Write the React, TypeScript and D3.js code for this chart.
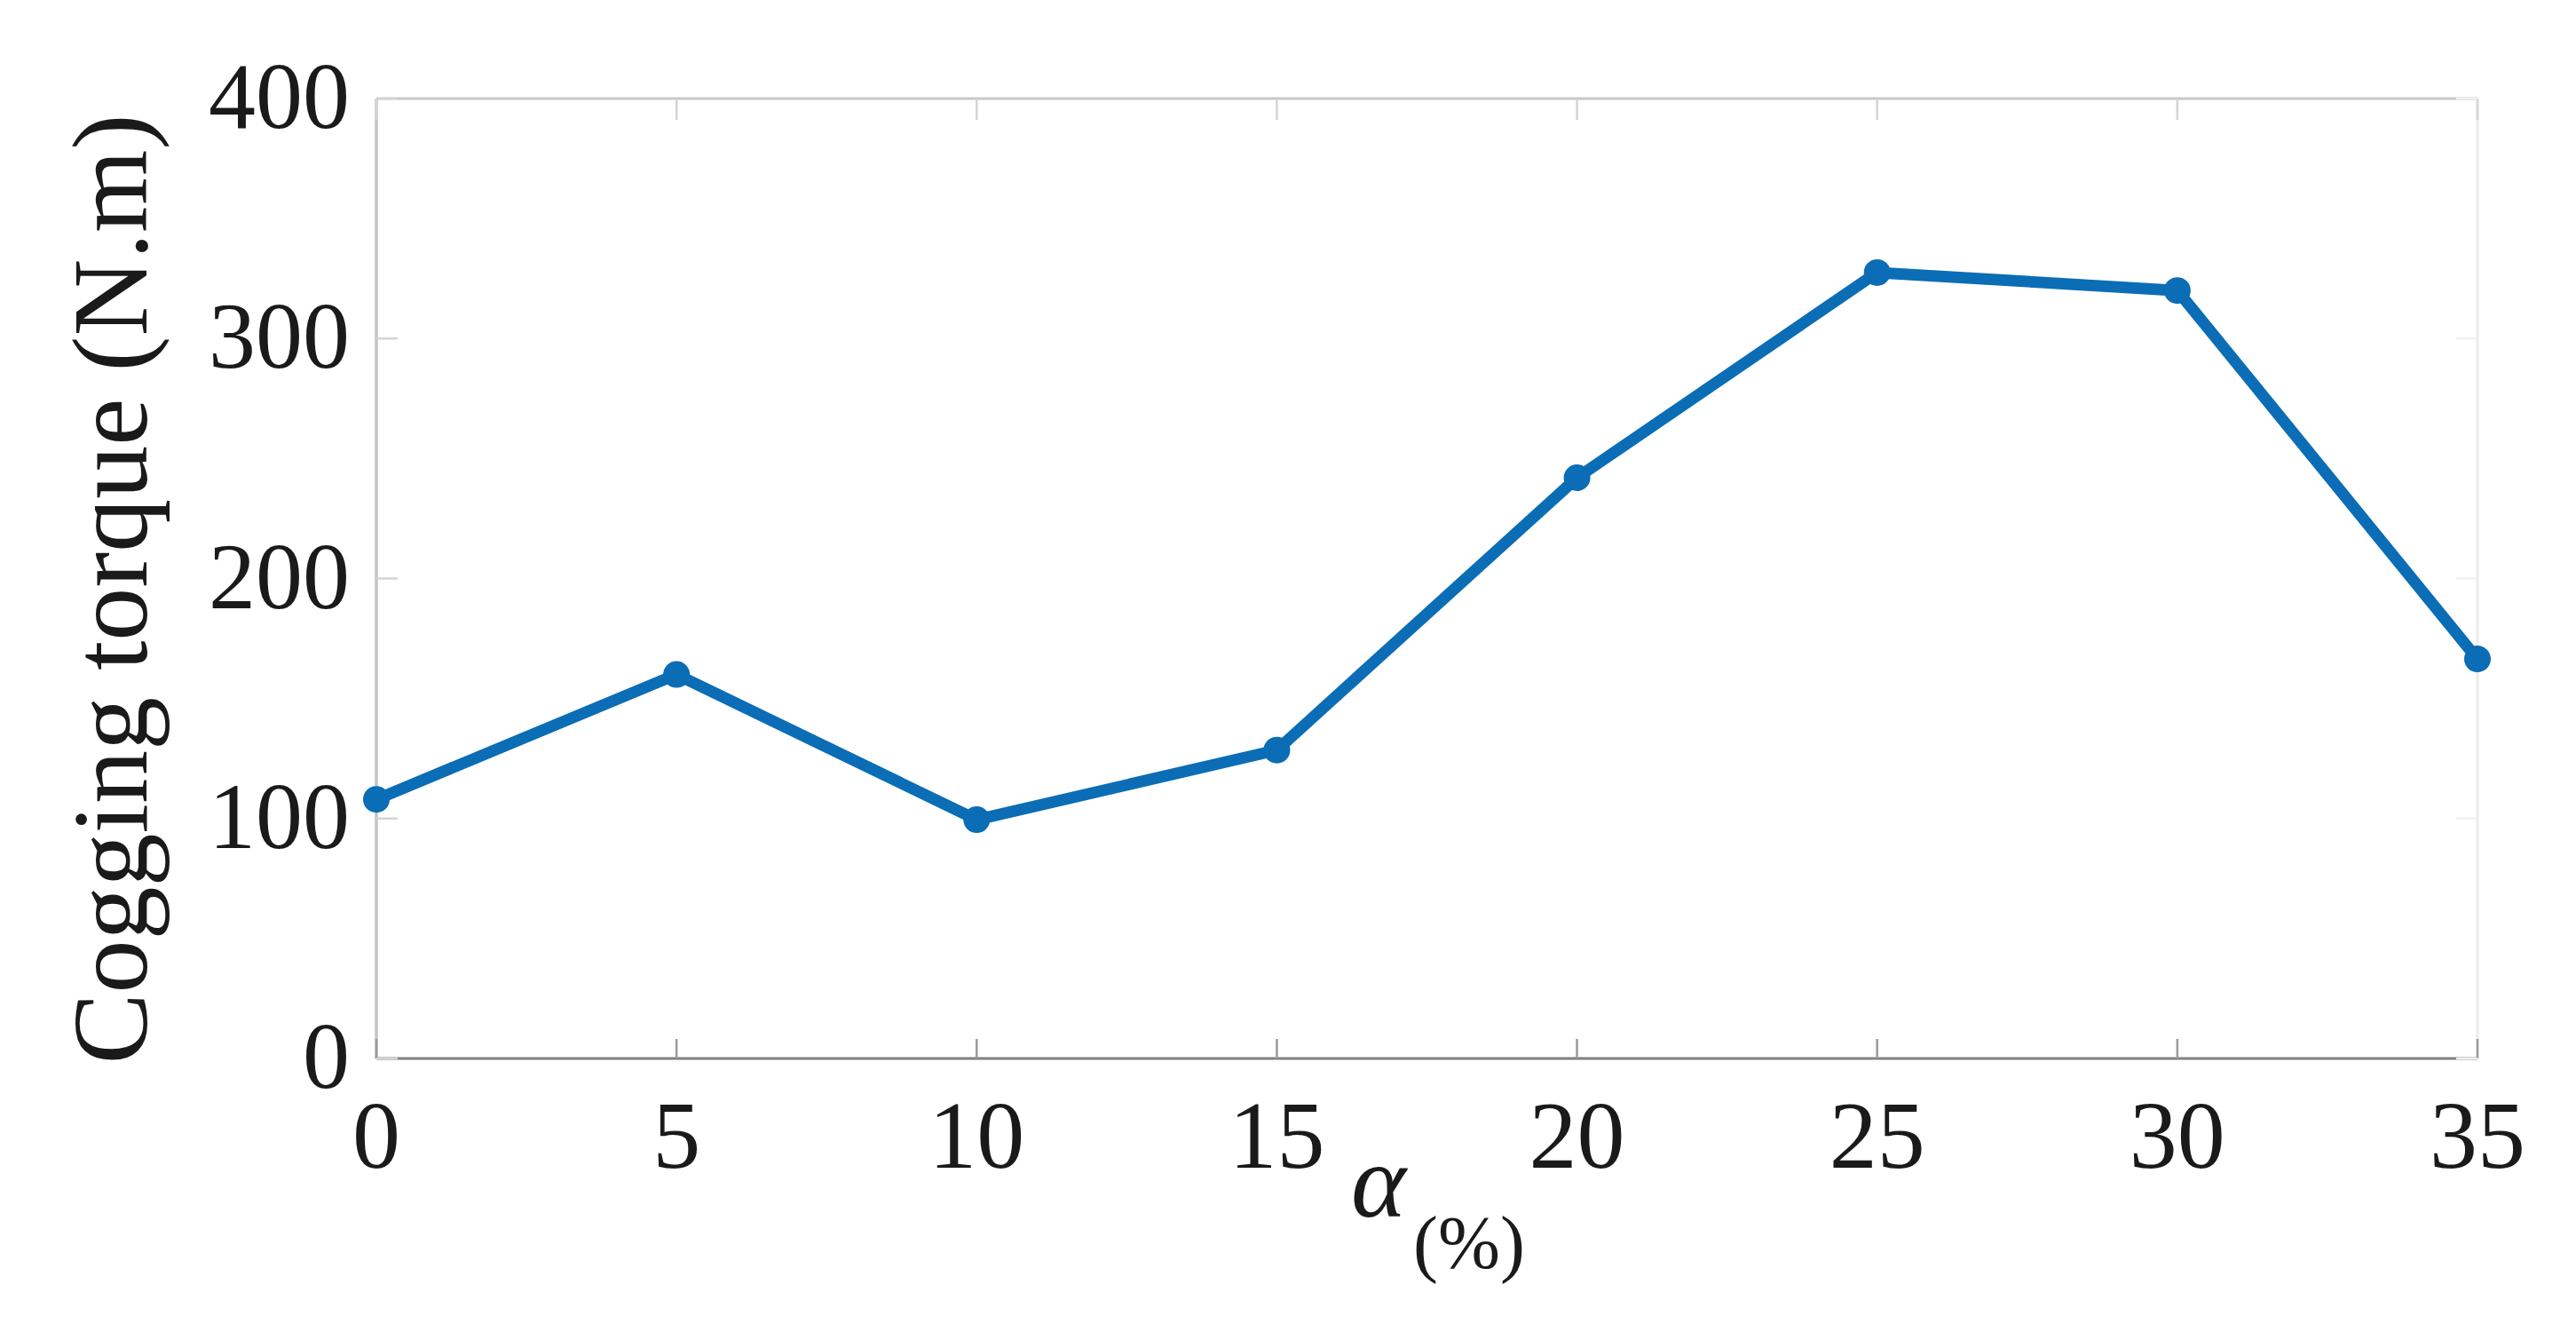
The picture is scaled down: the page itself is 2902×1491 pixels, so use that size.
import { useRef, useEffect } from 'react'
import * as d3 from 'd3'

// alpha (%) vs cogging torque (N.m)
const alphaValues = [0, 5, 10, 15, 20, 25, 30, 35]
const torqueValues = [108, 160, 99.5, 128.5, 242, 327.5, 320, 166.5]
const xTicks = [0, 5, 10, 15, 20, 25, 30, 35]
const yTicks = [0, 100, 200, 300, 400]

const W = 2902
const H = 1491
const FONT = "'Liberation Serif','Times New Roman',serif"
const BLUE = '#0b6db5'

export default function App() {
  const svgRef = useRef<SVGSVGElement>(null)

  useEffect(() => {
    document.body.style.margin = '0'
    const svg = svgRef.current
    if (!svg) return

    const margin = { top: 111, right: 111, bottom: 299, left: 424 }
    const iW = W - margin.left - margin.right
    const iH = H - margin.top - margin.bottom

    const sel = d3.select(svg)
    sel.selectAll('*').remove()
    sel.attr('width', W).attr('height', H)
    sel.append('rect').attr('width', W).attr('height', H).attr('fill', '#fff')

    const g = sel.append('g').attr('transform', `translate(${margin.left},${margin.top})`)

    const x = d3.scaleLinear().domain([0, 35]).range([0, iW])
    const y = d3.scaleLinear().domain([0, 400]).range([iH, 0])

    // box (matlab style)
    g.append('line').attr('x1', 0).attr('x2', iW).attr('y1', 0).attr('y2', 0)
      .attr('stroke', '#c8c8c8').attr('stroke-width', 3)
    g.append('line').attr('x1', iW).attr('x2', iW).attr('y1', 0).attr('y2', iH)
      .attr('stroke', '#ececec').attr('stroke-width', 3)
    g.append('line').attr('x1', 0).attr('x2', 0).attr('y1', 0).attr('y2', iH)
      .attr('stroke', '#c4c4c4').attr('stroke-width', 3.5)
    g.append('line').attr('x1', 0).attr('x2', iW).attr('y1', iH).attr('y2', iH)
      .attr('stroke', '#7f7f7f').attr('stroke-width', 3)

    // x ticks
    xTicks.forEach((t) => {
      g.append('line').attr('x1', x(t)).attr('x2', x(t)).attr('y1', iH).attr('y2', iH - 22)
        .attr('stroke', '#9a9a9a').attr('stroke-width', 2.5)
      g.append('line').attr('x1', x(t)).attr('x2', x(t)).attr('y1', 0).attr('y2', 24)
        .attr('stroke', '#d4d4d4').attr('stroke-width', 2.5)
      g.append('text')
        .attr('x', x(t))
        .attr('y', iH + 123)
        .attr('text-anchor', 'middle')
        .attr('fill', '#1a1a1a')
        .attr('font-size', '108px')
        .attr('font-family', FONT)
        .text(t)
    })

    // y ticks
    yTicks.forEach((t) => {
      g.append('line').attr('x1', 0).attr('x2', 24).attr('y1', y(t)).attr('y2', y(t))
        .attr('stroke', '#d4d4d4').attr('stroke-width', 2.5)
      g.append('line').attr('x1', iW).attr('x2', iW - 24).attr('y1', y(t)).attr('y2', y(t))
        .attr('stroke', '#f0f0f0').attr('stroke-width', 2.5)
      g.append('text')
        .attr('x', -30)
        .attr('y', y(t) + 33)
        .attr('text-anchor', 'end')
        .attr('fill', '#1a1a1a')
        .attr('font-size', '106px')
        .attr('font-family', FONT)
        .text(t)
    })

    // series
    const pts = alphaValues.map((a, i) => [a, torqueValues[i]] as [number, number])
    const line = d3.line<[number, number]>().x((d) => x(d[0])).y((d) => y(d[1]))
    g.append('path')
      .attr('d', line(pts))
      .attr('fill', 'none')
      .attr('stroke', BLUE)
      .attr('stroke-width', 13)
      .attr('stroke-linejoin', 'round')
    pts.forEach((d) => {
      g.append('circle').attr('cx', x(d[0])).attr('cy', y(d[1])).attr('r', 15).attr('fill', BLUE)
    })

    // y label
    sel.append('text')
      .attr('transform', `translate(165,${margin.top + iH / 2 + 12}) rotate(-90)`)
      .attr('text-anchor', 'middle')
      .attr('fill', '#1a1a1a')
      .attr('font-size', '120px')
      .attr('font-family', FONT)
      .text('Cogging torque (N.m)')

    // x label: alpha with (%) subscript
    const xl = sel.append('text')
      .attr('x', 1522)
      .attr('y', 1370)
      .attr('fill', '#1a1a1a')
      .attr('font-family', FONT)
    xl.append('tspan').attr('font-size', '118px').attr('font-style', 'italic').text('α')
    xl.append('tspan').attr('font-size', '84px').attr('dx', 8).attr('dy', 58).text('(%)')
  }, [])

  return <svg ref={svgRef} style={{ display: 'block' }} />
}
